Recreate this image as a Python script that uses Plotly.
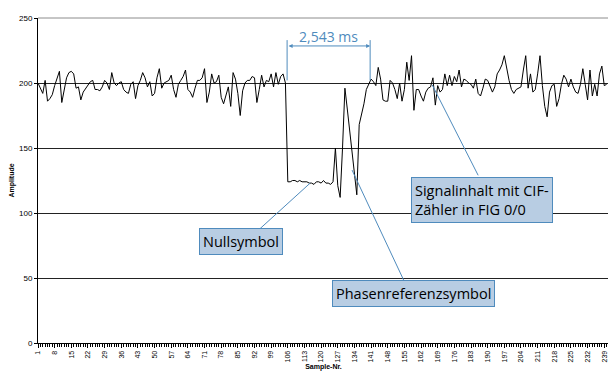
import plotly.graph_objects as go

samples = list(range(1, 241))
amplitude = [
    200, 196, 192, 202, 186, 188, 191, 198, 203, 209,
    185, 195, 204, 208, 209, 207, 196, 197, 187, 193,
    196, 198, 201, 202, 195, 195, 194, 197, 202, 200,
    195, 208, 200, 198, 200, 201, 195, 193, 192, 199,
    201, 188, 198, 202, 208, 204, 197, 201, 190, 192,
    204, 211, 196, 200, 201, 202, 206, 195, 189, 199,
    202, 205, 210, 195, 193, 189, 196, 202, 202, 204,
    211, 185, 193, 207, 200, 201, 206, 189, 184, 190,
    197, 182, 208, 203, 192, 175, 194, 200, 202, 202,
    205, 204, 185, 195, 206, 197, 202, 201, 207, 197,
    208, 199, 205, 207, 200, 124, 124, 125, 125, 124,
    125, 124, 124, 124, 123, 123, 122, 124, 124, 123,
    125, 123, 123, 122, 124, 150, 121, 112, 150, 196,
    180, 163, 147, 131, 114, 168, 176, 184, 195, 199,
    203, 201, 198, 212, 203, 187, 186, 186, 202, 200,
    195, 188, 200, 186, 195, 216, 202, 221, 179, 195,
    195, 190, 186, 193, 196, 197, 204, 183, 198, 193,
    195, 207, 198, 206, 198, 205, 201, 210, 197, 203,
    202, 200, 199, 196, 203, 192, 190, 196, 203, 202,
    197, 193, 197, 207, 210, 214, 221, 210, 202, 195,
    192, 195, 196, 197, 210, 221, 196, 207, 193, 195,
    207, 221, 198, 182, 174, 193, 198, 199, 182, 188,
    199, 206, 203, 197, 203, 197, 193, 192, 199, 211,
    199, 187, 210, 190, 199, 190, 207, 213, 198, 199,
]
y_ticks = [0, 50, 100, 150, 200, 250]
x_ticks = list(range(1, 241, 7))

blue = "#4f8bbd"
box_fill = "#b8cde3"

fig = go.Figure()
fig.add_trace(go.Scatter(x=samples, y=amplitude, mode="lines",
                         line=dict(color="black", width=1), hoverinfo="skip"))

# page body has an 8px margin, so the figure is sized to fit the window
fig.update_layout(
    width=608, height=377,
    margin=dict(l=30, r=7, t=10, b=42),
    paper_bgcolor="white", plot_bgcolor="white",
    showlegend=False,
    font=dict(family="Liberation Sans, Arial, sans-serif", color="black"),
)
fig.update_xaxes(
    automargin=False,
    range=[1, 241], tickmode="array", tickvals=x_ticks,
    ticktext=[str(v) for v in x_ticks], tickangle=-90,
    tickfont=dict(size=7), ticks="outside", ticklen=4, tickcolor="black",
    minor=dict(dtick=1, tick0=1, ticks="outside", ticklen=3, tickcolor="black", showgrid=False),
    showgrid=False, showline=True, linecolor="black", linewidth=1,
    mirror=False, zeroline=False,
    title=dict(text="<b>Sample-Nr.</b>", font=dict(size=7), standoff=2),
)
fig.update_yaxes(
    automargin=False,
    range=[0, 250], tickvals=y_ticks, tickfont=dict(size=8),
    ticks="outside", ticklen=3, tickcolor="black",
    showgrid=True, gridcolor="#222222", gridwidth=1,
    showline=True, linecolor="black", linewidth=1, zeroline=False,
    title=dict(text="<b>Amplitude</b>", font=dict(size=7), standoff=4),
)
# grey top and right frame
fig.add_shape(type="line", xref="paper", yref="paper", x0=0, x1=1, y0=1, y1=1,
              line=dict(color="#8c8c8c", width=1))
fig.add_shape(type="line", xref="paper", yref="paper", x0=1, x1=1, y0=0, y1=1,
              line=dict(color="#8c8c8c", width=1))

# bracket 2,543 ms
for xv in (105.7, 140.6):
    fig.add_shape(type="line", xref="x", yref="y", x0=xv, x1=xv, y0=202, y1=233,
                  line=dict(color=blue, width=1))
fig.add_annotation(x=140.6, y=228.5, ax=105.7, ay=228.5, xref="x", yref="y",
                   axref="x", ayref="y", text="", showarrow=True,
                   arrowhead=2, arrowside="end+start", arrowsize=0.8,
                   arrowwidth=1, arrowcolor=blue, startarrowhead=2, startarrowsize=0.8)
fig.add_annotation(x=123.2, y=236, xref="x", yref="y", text="2,543 ms",
                   showarrow=False, font=dict(family="Open Sans, sans-serif", size=14, color=blue))

# pointer lines
fig.add_shape(type="line", xref="x", yref="y", x0=186, y0=129, x1=166.7, y1=198.5,
              line=dict(color=blue, width=1))
fig.add_shape(type="line", xref="x", yref="y", x0=92.3, y0=84.6, x1=115.4, y1=123,
              line=dict(color=blue, width=1))
fig.add_shape(type="line", xref="x", yref="y", x0=155.3, y0=46, x1=133, y1=133,
              line=dict(color=blue, width=1))

ann_font = dict(family="Open Sans, sans-serif", size=14.5, color="black")
fig.add_annotation(x=187.7, y=110, xref="x", yref="y",
                   text="Signalinhalt mit CIF-<br>Zähler in FIG 0/0", align="left",
                   showarrow=False, bgcolor=box_fill, bordercolor=blue, borderwidth=1,
                   borderpad=3, font=ann_font)
fig.add_annotation(x=86.5, y=77.7, xref="x", yref="y", text="Nullsymbol",
                   showarrow=False, bgcolor=box_fill, bordercolor=blue, borderwidth=1,
                   borderpad=3, font=ann_font)
fig.add_annotation(x=158.7, y=37.7, xref="x", yref="y", text="Phasenreferenzsymbol",
                   showarrow=False, bgcolor=box_fill, bordercolor=blue, borderwidth=1,
                   borderpad=3, font=ann_font)

fig.write_html("out.html")
